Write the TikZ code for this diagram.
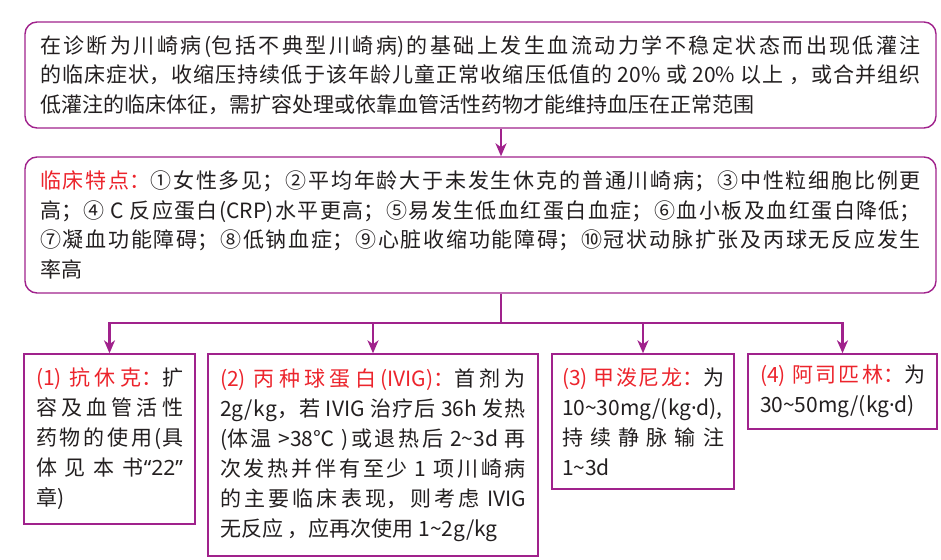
\documentclass[tikz,border=0pt]{standalone}
\usepackage{fontspec}
\setmainfont{Noto Sans CJK SC}
\newfontfamily\latfont{Noto Sans}
\usetikzlibrary{arrows.meta}
\XeTeXlinebreaklocale "zh"
\XeTeXlinebreakskip=0pt plus 3pt
\tolerance=10000
\definecolor{morado}{RGB}{160,34,140}
\definecolor{rojo}{RGB}{236,36,44}
\definecolor{tinta}{RGB}{35,31,32}
\newcommand{\pto}{{\latfont ·}}
\begin{document}
\begin{tikzpicture}[x=1pt,y=-1pt,inner sep=0mm]
\tikzstyle{cajaarriba}=[draw=morado,line width=1.4pt,rounded corners=12pt,text=tinta,align=justify,inner xsep=15pt,text width=881pt,font=\fontsize{21}{29.5}\selectfont]
\tikzstyle{cajaabajo}=[draw=morado,line width=1.4pt,text=tinta,align=justify,inner xsep=12pt,font=\fontsize{21}{30}\selectfont]
\tikzstyle{flecha}=[draw=morado,line width=2.4pt,-{Stealth[length=13pt,width=11pt,inset=4pt]}]
\useasboundingbox (0,0) rectangle (941,559);
\node at (480.5,75) (caja1)[cajaarriba,minimum height=106pt] {在诊断为川崎病(包括不典型川崎病)的基础上发生血流动力学不稳定状态而出现低灌注\linebreak
的临床症状，收缩压持续低于该年龄儿童正常收缩压低值的 20\% 或 20\% 以上 ，或合并组织\linebreak
低灌注的临床体征，需扩容处理或依靠血管活性药物才能维持血压在正常范围};
\node at (480.5,225) (caja2)[cajaarriba,minimum height=136pt] {\textcolor{rojo}{临床特点：}①女性多见；②平均年龄大于未发生休克的普通川崎病；③中性粒细胞比例更\linebreak
高；④ C 反应蛋白(CRP)水平更高；⑤易发生低血红蛋白血症；⑥血小板及血红蛋白降低；\linebreak
⑦凝血功能障碍；⑧低钠血症；⑨心脏收缩功能障碍；⑩冠状动脉扩张及丙球无反应发生\linebreak
率高};
\draw [flecha] ([xshift=20.5pt]caja1.south) -- ([xshift=20.5pt]caja2.north);
%% las cuatro cajas de abajo, colgando de caja2
\node at (109.5,439) (sub1)[cajaabajo,text width=147pt,minimum height=170pt] {\textcolor{rojo}{(1) 抗休克：}扩\linebreak
容及血管活性\linebreak
药物的使用(具\linebreak
体见本书{\latfont “22”}\linebreak
章)};
\node at (373,455) (sub2)[cajaabajo,text width=306pt,minimum height=202pt] {\textcolor{rojo}{(2) 丙种球蛋白(IVIG)：}首剂为\linebreak
2g/kg，若 IVIG 治疗后 36h 发热\linebreak
(体温 >38℃ )或退热后 2\textasciitilde3d 再\linebreak
次发热并伴有至少 1 项川崎病\linebreak
的主要临床表现，则考虑 IVIG\linebreak
无反应 ，应再次使用 1\textasciitilde2g/kg};
\node at (643,421.5) (sub3)[cajaabajo,inner xsep=10pt,text width=162pt,minimum height=135pt] {\textcolor{rojo}{(3) 甲泼尼龙：}为\linebreak
\mbox{10\textasciitilde30mg/(kg\pto d),}\linebreak
持续静脉输注\linebreak
1\textasciitilde3d};
\node at (842.5,391.5) (sub4)[cajaabajo,text width=165pt,minimum height=75pt] {\textcolor{rojo}{(4) 阿司匹林：}为\linebreak
30\textasciitilde50mg/(kg\pto d)};
\coordinate (bifur) at (501,323);
\draw [draw=morado,line width=2.4pt] ([xshift=20.5pt]caja2.south) -- (bifur);
\draw [flecha] (bifur) -| (sub1.north);
\draw [flecha] (bifur) -| (sub2.north);
\draw [flecha] (bifur) -| (sub3.north);
\draw [flecha] (bifur) -| (sub4.north);
\end{tikzpicture}
\end{document}
